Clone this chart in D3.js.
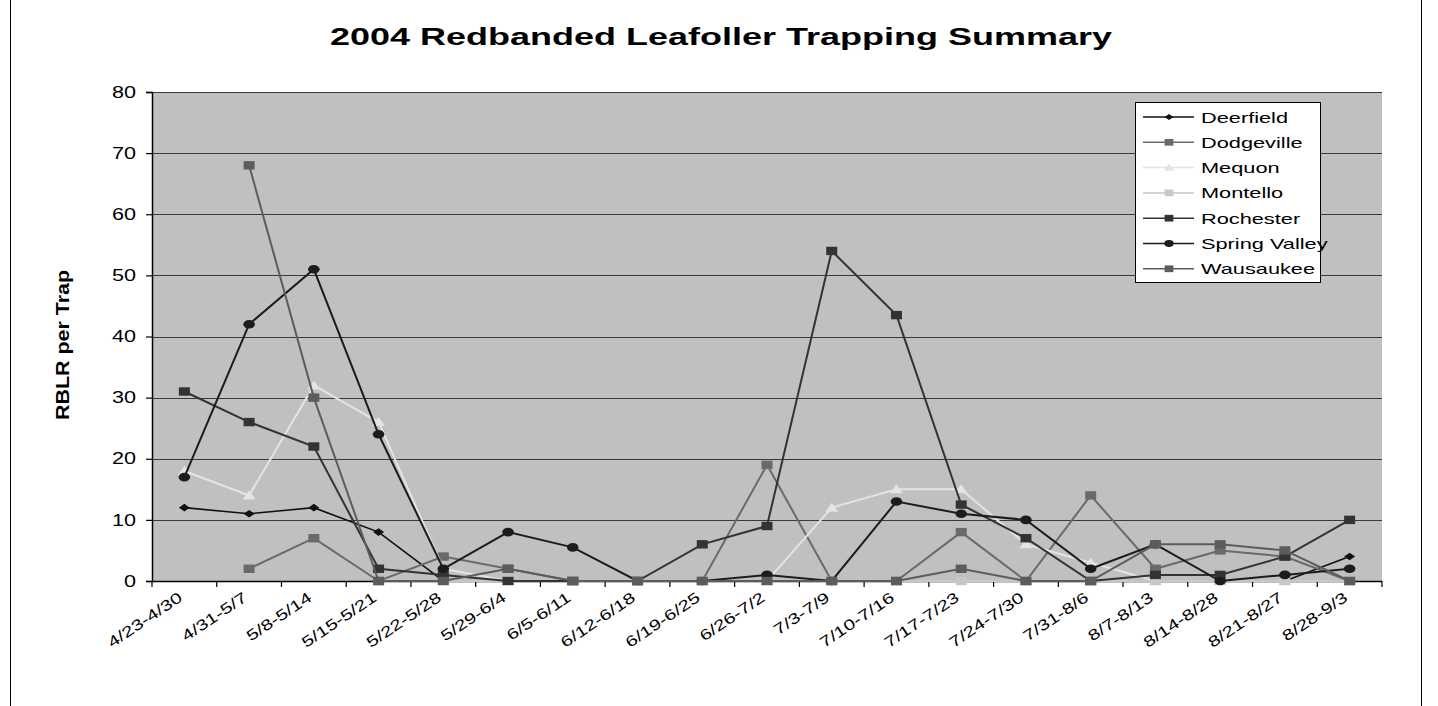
<!DOCTYPE html>
<html>
<head>
<meta charset="utf-8">
<script src="https://cdn.jsdelivr.net/npm/d3@7"></script>
<style>
  html, body { margin: 0; padding: 0; background: #ffffff; }
  svg { display: block; }
  text { font-family: "Liberation Sans", Arial, sans-serif; }
</style>
</head>
<body>
<svg id="chart" width="1438" height="706"></svg>
<script>
const title = "2004 Redbanded Leafoller Trapping Summary";
const yLabel = "RBLR per Trap";
const categories = ["4/23-4/30","4/31-5/7","5/8-5/14","5/15-5/21","5/22-5/28","5/29-6/4","6/5-6/11","6/12-6/18","6/19-6/25","6/26-7/2","7/3-7/9","7/10-7/16","7/17-7/23","7/24-7/30","7/31-8/6","8/7-8/13","8/14-8/28","8/21-8/27","8/28-9/3"];
const yTicks = [0, 10, 20, 30, 40, 50, 60, 70, 80];

const deerfield    = [12, 11, 12, 8, 0, 0, 0, 0, 0, 0, 0, 0, 0, 0, 0, 0, 0, 0, 4];
const dodgeville   = [null, 2, 7, 0, 4, 2, 0, 0, 0, 19, 0, 0, 8, 0, 14, 2, 5, 4, 0];
const mequon       = [18, 14, 32, 26, 2, 0, 0, 0, 0, 0, 12, 15, 15, 6, 3, 0, 0, 0, 0];
const montello     = [null, null, null, 0, 0, 0, 0, 0, 0, 0, 0, 0, 0, 0, 0, 0, 0, 0, 0];
const rochester    = [31, 26, 22, 2, 1, 0, 0, 0, 6, 9, 54, 43.5, 12.5, 7, 0, 1, 1, 4, 10];
const springValley = [17, 42, 51, 24, 2, 8, 5.5, 0, 0, 1, 0, 13, 11, 10, 2, 6, 0, 1, 2];
const wausaukee    = [null, 68, 30, 0, 0, 2, 0, 0, 0, 0, 0, 0, 2, 0, 0, 6, 6, 5, 0];

const seriesNames = ["Deerfield","Dodgeville","Mequon","Montello","Rochester","Spring Valley","Wausaukee"];
const seriesValues = [deerfield, dodgeville, mequon, montello, rochester, springValley, wausaukee];
const seriesColors = ["#101010","#6a6a6a","#e4e4e4","#c7c7c7","#333333","#1c1c1c","#5c5c5c"];
const seriesMarkers = ["diamond","square","triangle","square","square","circle","square"];

const svg = d3.select("#chart");
const W = 1438, H = 706;
const plot = {left: 152, right: 1382, top: 92, bottom: 581};

// outer frame
svg.append("rect").attr("x", 10.5).attr("y", -2).attr("width", 1411).attr("height", H + 4)
  .attr("fill", "#fff").attr("stroke", "#000").attr("stroke-width", 1);

const x = d3.scalePoint().domain(categories).range([plot.left, plot.right]).padding(0.5);
const y = d3.scaleLinear().domain([0, 80]).range([plot.bottom, plot.top]);
const step = x.step();

// plot background
svg.append("rect").attr("x", plot.left).attr("y", plot.top)
  .attr("width", plot.right - plot.left).attr("height", plot.bottom - plot.top)
  .attr("fill", "#c0c0c0");

// gridlines
svg.append("g").selectAll("line").data(yTicks.filter(d => d > 0)).join("line")
  .attr("x1", plot.left).attr("x2", plot.right)
  .attr("y1", d => Math.round(y(d)) + 0.5).attr("y2", d => Math.round(y(d)) + 0.5)
  .attr("stroke", "#3a3a3a").attr("stroke-width", 1.2);

// y axis
const yAxis = d3.axisLeft(y).tickValues(yTicks).tickSize(6).tickPadding(10).tickFormat(d3.format("d"));
const gy = svg.append("g").attr("transform", `translate(${plot.left},0)`).call(yAxis);
gy.select(".domain").attr("stroke", "#000").attr("stroke-width", 1.5);
gy.selectAll(".tick line").attr("stroke", "#000").attr("stroke-width", 1.2);
gy.selectAll(".tick text").attr("font-size", 16).attr("fill", "#000")
  .style("font-family", "'Liberation Sans', Arial, sans-serif")
  .each(function() {
    const t = d3.select(this);
    const w = this.getComputedTextLength();
    t.attr("textLength", w * 1.35).attr("lengthAdjust", "spacingAndGlyphs");
  });

// x axis line and ticks at category boundaries
svg.append("line").attr("x1", plot.left).attr("x2", plot.right)
  .attr("y1", plot.bottom + 0.5).attr("y2", plot.bottom + 0.5)
  .attr("stroke", "#000").attr("stroke-width", 1.5);
const bounds = d3.range(categories.length + 1).map(i => plot.left + i * step);
svg.append("g").selectAll("line").data(bounds).join("line")
  .attr("x1", d => d).attr("x2", d => d)
  .attr("y1", plot.bottom).attr("y2", plot.bottom + 6)
  .attr("stroke", "#000").attr("stroke-width", 1.2);

// x labels
svg.append("g").selectAll("text").data(categories).join("text")
  .attr("text-anchor", "end")
  .attr("font-size", 15)
  .attr("fill", "#000")
  .attr("transform", d => `translate(${x(d) - 1},${plot.bottom + 19}) rotate(-34)`)
  .text(d => d)
  .each(function() {
    const w = this.getComputedTextLength();
    d3.select(this).attr("textLength", w * 1.36).attr("lengthAdjust", "spacingAndGlyphs");
  });

// title
svg.append("text").attr("x", 721).attr("y", 45).attr("text-anchor", "middle")
  .attr("font-size", 23).attr("font-weight", "bold").attr("fill", "#000")
  .attr("textLength", 782).attr("lengthAdjust", "spacingAndGlyphs")
  .text(title);

// y label
svg.append("text").attr("transform", `translate(69,345) rotate(-90)`)
  .attr("text-anchor", "middle").attr("font-size", 18).attr("font-weight", "bold")
  .attr("fill", "#000").attr("textLength", 150).attr("lengthAdjust", "spacingAndGlyphs")
  .text(yLabel);

// marker drawing
function drawMarker(g, type, cx, cy, color, s) {
  s = s || 1;
  if (type === "square") {
    g.append("rect").attr("x", cx - 5.5 * s).attr("y", cy - 4.2 * s)
      .attr("width", 11 * s).attr("height", 8.4 * s).attr("fill", color);
  } else if (type === "circle") {
    g.append("ellipse").attr("cx", cx).attr("cy", cy).attr("rx", 5.8 * s).attr("ry", 4.3 * s).attr("fill", color);
  } else if (type === "diamond") {
    g.append("path").attr("d", `M${cx - 5.5 * s},${cy} L${cx},${cy - 3.8 * s} L${cx + 5.5 * s},${cy} L${cx},${cy + 3.8 * s} Z`).attr("fill", color);
  } else if (type === "triangle") {
    g.append("path").attr("d", `M${cx - 6.5 * s},${cy + 4 * s} L${cx},${cy - 5 * s} L${cx + 6.5 * s},${cy + 4 * s} Z`).attr("fill", color);
  }
}

// series
const line = d3.line().defined(d => d.v != null).x(d => x(d.c)).y(d => y(d.v));
const seriesG = svg.append("g");
seriesNames.forEach((name, i) => {
  const data = categories.map((c, j) => ({c, v: seriesValues[i][j]}));
  const g = seriesG.append("g");
  g.append("path").datum(data).attr("d", line).attr("fill", "none")
    .attr("stroke", seriesColors[i]).attr("stroke-width", i === 0 ? 1.6 : 2)
    .attr("stroke-linejoin", "miter");
  data.filter(d => d.v != null).forEach(d => drawMarker(g, seriesMarkers[i], x(d.c), y(d.v), seriesColors[i]));
});

// legend
const lg = svg.append("g");
lg.append("rect").attr("x", 1135.5).attr("y", 102.5).attr("width", 185).attr("height", 180)
  .attr("fill", "#fff").attr("stroke", "#000").attr("stroke-width", 1);
seriesNames.forEach((name, i) => {
  const ly = 117 + i * 25.3;
  lg.append("line").attr("x1", 1143).attr("x2", 1194).attr("y1", ly).attr("y2", ly)
    .attr("stroke", seriesColors[i]).attr("stroke-width", 1.5);
  drawMarker(lg, seriesMarkers[i], 1169, ly, seriesColors[i], 0.8);
  lg.append("text").attr("x", 1201).attr("y", ly + 5.5).attr("font-size", 15).attr("fill", "#000")
    .text(name)
    .each(function() {
      const w = this.getComputedTextLength();
      d3.select(this).attr("textLength", w * 1.45).attr("lengthAdjust", "spacingAndGlyphs");
    });
});
</script>
</body>
</html>
